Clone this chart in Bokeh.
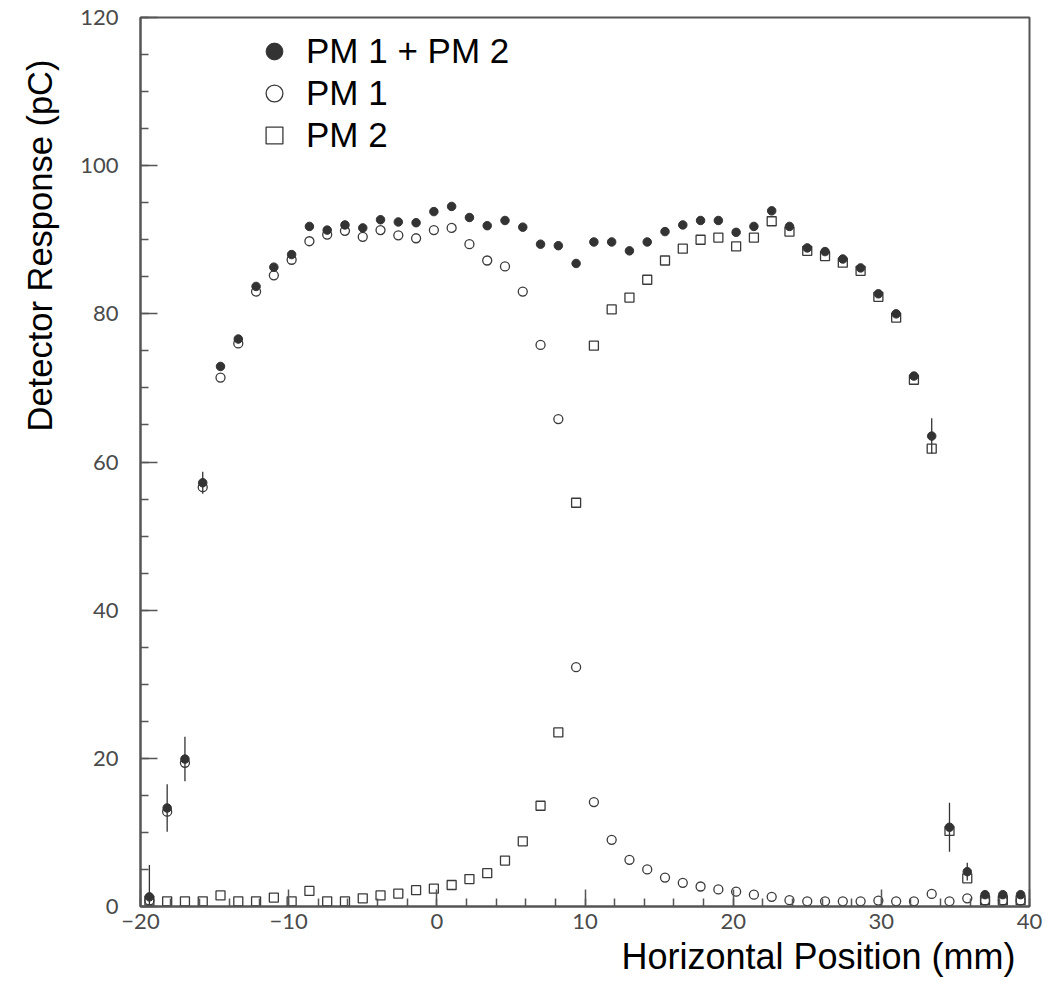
from bokeh.plotting import figure
from bokeh.models import (ColumnDataSource, FixedTicker, Title, Legend, LegendItem, Range1d)
from bokeh.embed import file_html
from bokeh.resources import INLINE

# ---- data ----
x_mm = [-19.4, -18.2, -17.0, -15.8, -14.6, -13.4, -12.2, -11.0, -9.8, -8.6,
        -7.4, -6.2, -5.0, -3.8, -2.6, -1.4, -0.2, 1.0, 2.2, 3.4,
        4.6, 5.8, 7.0, 8.2, 9.4, 10.6, 11.8, 13.0, 14.2, 15.4,
        16.6, 17.8, 19.0, 20.2, 21.4, 22.6, 23.8, 25.0, 26.2, 27.4,
        28.6, 29.8, 31.0, 32.2, 33.4, 34.6, 35.8, 37.0, 38.2, 39.4]

pm_sum = [1.3, 13.3, 19.9, 57.2, 72.9, 76.6, 83.7, 86.3, 88.0, 91.8,
          91.3, 92.0, 91.6, 92.7, 92.4, 92.3, 93.8, 94.5, 93.0, 91.9,
          92.6, 91.7, 89.4, 89.2, 86.8, 89.7, 89.7, 88.5, 89.7, 91.1,
          92.0, 92.6, 92.6, 91.0, 91.8, 93.9, 91.8, 88.9, 88.4, 87.4,
          86.2, 82.7, 80.0, 71.6, 63.5, 10.7, 4.7, 1.6, 1.6, 1.6]

pm_sum_err = [4.3, 3.2, 3.0, 1.5, 0.4, 0.4, 0.4, 0.4, 0.4, 0.4,
              0.4, 0.4, 0.4, 0.4, 0.4, 0.4, 0.4, 0.4, 0.4, 0.4,
              0.4, 0.4, 0.4, 0.4, 0.4, 0.4, 0.4, 0.4, 0.4, 0.4,
              0.4, 0.4, 0.4, 0.4, 0.4, 0.4, 0.4, 0.4, 0.4, 0.4,
              0.4, 0.4, 0.4, 0.4, 2.4, 3.3, 1.2, 0.4, 0.4, 0.4]

pm1 = [0.8, 12.8, 19.4, 56.6, 71.4, 76.0, 83.0, 85.2, 87.3, 89.8,
       90.7, 91.2, 90.4, 91.3, 90.6, 90.2, 91.3, 91.6, 89.4, 87.2,
       86.4, 83.0, 75.8, 65.8, 32.3, 14.1, 9.0, 6.3, 5.0, 3.9,
       3.2, 2.7, 2.3, 2.0, 1.6, 1.3, 0.85, 0.7, 0.7, 0.7,
       0.7, 0.8, 0.7, 0.7, 1.7, 0.7, 1.1, 0.8, 0.8, 0.8]

pm2 = [0.8, 0.7, 0.7, 0.7, 1.5, 0.7, 0.7, 1.2, 0.7, 2.1,
       0.7, 0.7, 1.1, 1.5, 1.75, 2.2, 2.4, 2.9, 3.7, 4.5,
       6.2, 8.8, 13.6, 23.5, 54.5, 75.7, 80.6, 82.2, 84.6, 87.2,
       88.8, 90.0, 90.3, 89.1, 90.3, 92.5, 91.1, 88.5, 87.8, 86.9,
       85.8, 82.3, 79.5, 71.1, 61.8, 10.2, 3.8, 0.85, 0.85, 0.85]

x_tick_values = [-20, -10, 0, 10, 20, 30, 40]
x_tick_labels = ["\u221220", "\u221210", "0", "10", "20", "30", "40"]
y_tick_values = [0, 20, 40, 60, 80, 100, 120]

series_labels = ["PM 1 + PM 2", "PM 1", "PM 2"]

# ---- figure ----
INK = "#333333"
AX = "#555555"

p = figure(width=1049, height=997, x_range=Range1d(-20, 40), y_range=Range1d(0, 120),
           output_backend="svg", toolbar_location=None,
           min_border_left=140, min_border_right=20, min_border_top=17, min_border_bottom=91)
p.background_fill_color = "white"
p.border_fill_color = "white"
p.xgrid.visible = False
p.ygrid.visible = False
p.outline_line_color = AX
p.outline_line_width = 2

x_minor = [v / 1.0 for v in range(-20, 41, 2)]
y_minor = [v / 1.0 for v in range(0, 121, 5)]
p.xaxis.ticker = FixedTicker(ticks=x_tick_values, minor_ticks=x_minor)
p.yaxis.ticker = FixedTicker(ticks=y_tick_values, minor_ticks=y_minor)
p.xaxis.major_label_overrides = {v: l for v, l in zip(x_tick_values, x_tick_labels)}

for ax in (p.xaxis[0], p.yaxis[0]):
    ax.axis_line_color = AX
    ax.axis_line_width = 2
    ax.major_tick_line_color = AX
    ax.minor_tick_line_color = AX
    ax.major_tick_line_width = 1.5
    ax.minor_tick_line_width = 1.5
    ax.major_tick_in = 17
    ax.major_tick_out = 0
    ax.minor_tick_in = 8
    ax.minor_tick_out = 0
    ax.major_label_text_font = "Lato"
    ax.major_label_text_font_size = "22px"
    ax.major_label_text_color = "#4a4a4a"
p.xaxis.major_label_standoff = 7
p.yaxis.major_label_standoff = 22

src = ColumnDataSource(dict(
    x=x_mm, s=pm_sum,
    lo=[v - e for v, e in zip(pm_sum, pm_sum_err)],
    hi=[v + e for v, e in zip(pm_sum, pm_sum_err)],
    a=pm1, b=pm2,
))

p.segment(x0="x", y0="lo", x1="x", y1="hi", source=src, line_color=INK, line_width=1.3)
r1 = p.scatter("x", "a", source=src, marker="circle", size=9, fill_color="white",
               fill_alpha=0, line_color="#3a3a3a", line_width=1.3)
r2 = p.scatter("x", "b", source=src, marker="square", size=9, fill_color="white",
               fill_alpha=0, line_color="#3a3a3a", line_width=1.3)
r0 = p.scatter("x", "s", source=src, marker="circle", size=8.5, fill_color=INK,
               line_color=INK, line_width=1)

legend = Legend(items=[LegendItem(label=series_labels[0], renderers=[r0]),
                       LegendItem(label=series_labels[1], renderers=[r1]),
                       LegendItem(label=series_labels[2], renderers=[r2])],
                location=(113, 750), glyph_width=42, glyph_height=42, label_standoff=11,
                padding=0, spacing=0, margin=0, border_line_color=None,
                background_fill_alpha=0, label_text_font="Liberation Sans",
                label_text_font_size="35px", label_text_color="black")
p.add_layout(legend)

xt = Title(text="Horizontal Position (mm)", align="right", text_font="Liberation Sans",
           text_font_size="36px", text_font_style="normal", text_color="black",
           offset=14, standoff=4)
p.add_layout(xt, "below")
yt = Title(text="Detector Response (pC)", align="right", text_font="Liberation Sans",
           text_font_size="34.5px", text_font_style="normal", text_color="black",
           offset=42, standoff=37)
p.add_layout(yt, "left")

open("out.html", "w").write(file_html(p, INLINE))
